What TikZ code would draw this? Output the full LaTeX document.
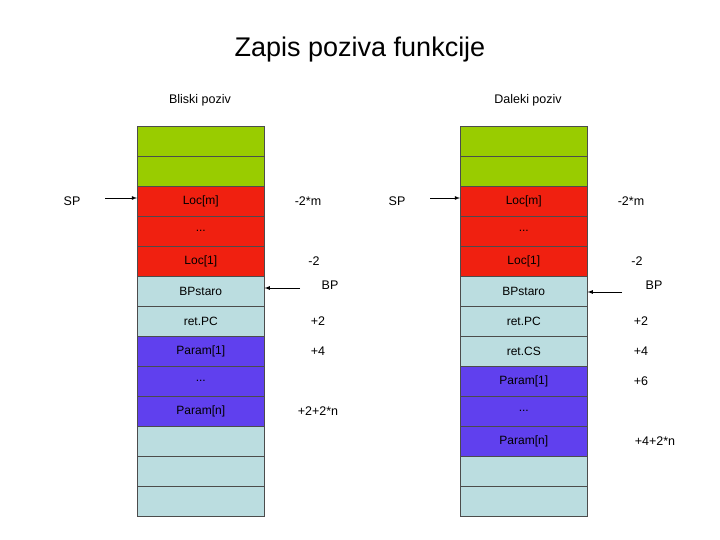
\documentclass[tikz,border=0pt]{standalone}
\usepackage{fontspec}
\setmainfont{Liberation Sans}
\begin{document}
\begin{tikzpicture}[x=1pt,y=-1pt,
  cell/.style={draw=black!70,line width=0.6pt,minimum width=127pt,minimum height=30pt,inner sep=0pt,anchor=north west,font=\fontsize{12}{14}\selectfont},
  gr/.style={cell,fill=grn}, rd/.style={cell,fill=rdc}, lb/.style={cell,fill=lbl}, pu/.style={cell,fill=pur},
  lab/.style={font=\fontsize{12.5}{14}\selectfont},
  arr/.style={-latex,line width=0.8pt}]
\definecolor{grn}{HTML}{99CC00}
\definecolor{rdc}{HTML}{F02010}
\definecolor{lbl}{HTML}{BBDDE0}
\definecolor{pur}{HTML}{6040EE}
\useasboundingbox (0,0) rectangle (720,540);
\node[font=\fontsize{27}{30}\selectfont] (title) at (360,50) {Zapis poziva funkcije};
\node[lab] (h1) at (200,100) {Bliski poziv};
\node[lab] (h2) at (528,100) {Daleki poziv};
% left column
\node[gr] (a1) at (137,126) {};
\node[gr] (a2) at (137,156) {};
\node[rd] (a3) at (137,186) {Loc[m]};
\node[rd] (a4) at (137,216) {...};
\node[rd] (a5) at (137,246) {Loc[1]};
\node[lb] (a6) at (137,276) {BPstaro};
\node[lb] (a7) at (137,306) {ret.PC};
\node[pu] (a8) at (137,336) {Param[1]};
\node[pu] (a9) at (137,366) {...};
\node[pu] (a10) at (137,396) {Param[n]};
\node[lb] (a11) at (137,426) {};
\node[lb] (a12) at (137,456) {};
\node[lb] (a13) at (137,486) {};
% right column
\node[gr] (b1) at (460,126) {};
\node[gr] (b2) at (460,156) {};
\node[rd] (b3) at (460,186) {Loc[m]};
\node[rd] (b4) at (460,216) {...};
\node[rd] (b5) at (460,246) {Loc[1]};
\node[lb] (b6) at (460,276) {BPstaro};
\node[lb] (b7) at (460,306) {ret.PC};
\node[lb] (b8) at (460,336) {ret.CS};
\node[pu] (b9) at (460,366) {Param[1]};
\node[pu] (b10) at (460,396) {...};
\node[pu] (b11) at (460,426) {Param[n]};
\node[lb] (b12) at (460,456) {};
\node[lb] (b13) at (460,486) {};
% left labels
\node[lab] (sp1) at (72,201) {SP};
\coordinate (sp1e) at (105,198);
\draw[arr] (sp1e) -- (a3.west |- sp1e);
\node[lab] (l1) at (308,201) {-2*m};
\node[lab] (l2) at (314,261) {-2};
\node[lab] (bp1) at (330,285) {BP};
\coordinate (bp1e) at (300,288);
\draw[arr] (bp1e) -- (a6.east |- bp1e);
\node[lab] (l3) at (318,321) {+2};
\node[lab] (l4) at (318,351) {+4};
\node[lab] (l5) at (318,411) {+2+2*n};
% right labels
\node[lab] (sp2) at (397,201) {SP};
\coordinate (sp2e) at (430,198);
\draw[arr] (sp2e) -- (b3.west |- sp2e);
\node[lab] (r1) at (631,201) {-2*m};
\node[lab] (r2) at (637,261) {-2};
\node[lab] (bp2) at (654,285) {BP};
\coordinate (bp2e) at (622,292);
\draw[arr] (bp2e) -- (b6.east |- bp2e);
\node[lab] (r3) at (641,321) {+2};
\node[lab] (r4) at (641,351) {+4};
\node[lab] (r5) at (641,381) {+6};
\node[lab] (r6) at (655,441) {+4+2*n};
\end{tikzpicture}
\end{document}
